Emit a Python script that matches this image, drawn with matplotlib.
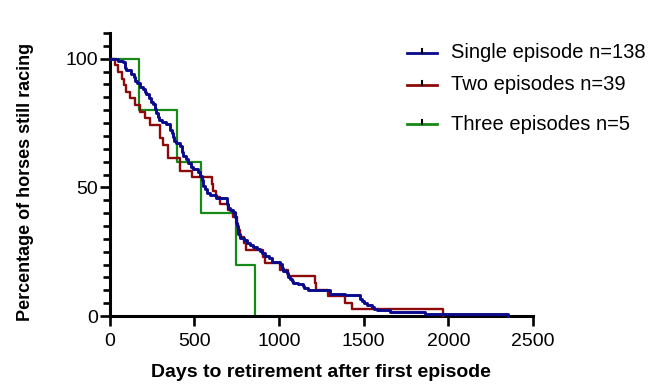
import numpy as np
import matplotlib
matplotlib.use("Agg")
from matplotlib import pyplot as plt
from matplotlib.lines import Line2D

# 生存曲線のデータ (日数, その時点以降の割合%)
single_days = [0, 47, 77, 90, 97, 126, 140, 146, 160, 175, 195, 205, 215, 234, 245, 254,
               265, 274, 285, 293, 310, 333, 353, 365, 372, 380, 392, 414, 425, 433, 450,
               463, 480, 492, 522, 532, 542, 552, 561, 575, 591, 630, 690, 699, 709, 729,
               739, 745, 749, 755, 758, 770, 790, 808, 830, 847, 870, 887, 900, 916, 940,
               956, 1005, 1015, 1024, 1044, 1055, 1064, 1075, 1083, 1113, 1142, 1150, 1172,
               1300, 1389, 1478, 1487, 1500, 1517, 1547, 1560, 1576, 1655, 1862, 2354]
single_surv = [100, 99.3, 98.6, 96.4, 95.7, 94.2, 92.8, 91.3, 90.6, 89.1, 88.4, 87.0, 86.2,
               84.8, 83.3, 82.6, 80.4, 79.0, 77.5, 76.1, 75.4, 74.6, 72.5, 71.0, 69.6, 68.1,
               67.4, 65.9, 63.8, 62.3, 60.9, 59.4, 58.0, 57.2, 55.8, 54.3, 52.9, 50.7, 49.3,
               47.8, 47.1, 45.7, 43.5, 42.0, 41.3, 40.6, 38.4, 36.2, 34.8, 33.3, 31.9, 30.4,
               29.7, 28.3, 27.5, 26.8, 26.1, 25.4, 24.6, 23.2, 22.5, 21.0, 20.3, 18.8, 17.4,
               16.7, 15.2, 14.5, 13.8, 13.0, 12.3, 11.6, 10.9, 10.1, 8.7, 8.0, 6.5, 5.8, 5.1,
               4.3, 3.6, 2.9, 2.2, 1.4, 0.7, 0]

# 2回エピソード (n=39) の引退日
two_events = [30, 50, 69, 85, 98, 120, 148, 177, 207, 236, 295, 295, 313, 343, 343, 414, 414,
              483, 605, 611, 625, 650, 700, 730, 750, 758, 770, 790, 805, 906, 915, 1005,
              1050, 1212, 1220, 1290, 1389, 1429, 1970]

# 3回エピソード (n=5) の引退日
three_events = [172, 395, 537, 745, 858]

labels = ["Single episode n=138", "Two episodes n=39", "Three episodes n=5"]
colors = ["#0a0a8c", "#8c0a0a", "#168a16"]

x_ticks = [0, 500, 1000, 1500, 2000, 2500]
y_ticks = [0, 50, 100]


def km_steps(events):
    n = len(events)
    days = [0] + sorted(events)
    surv = [100.0] + [100.0 * (n - i - 1) / n for i in range(n)]
    return days, surv


plt.rcParams["font.family"] = ["Liberation Sans", "DejaVu Sans"]

fig = plt.figure(figsize=(6.62, 3.84), dpi=100)
ax = fig.add_axes([0.166, 0.177, 0.639, 0.737])

d3, s3 = km_steps(three_events)
d2, s2 = km_steps(two_events)
ax.step(d3, s3, where="post", color=colors[2], lw=1.6, clip_on=False, zorder=2)
ax.step(d2, s2, where="post", color=colors[1], lw=1.7, clip_on=False, zorder=3)
ax.step(single_days, single_surv, where="post", color=colors[0], lw=2.1,
        clip_on=False, zorder=4)

ax.set_xlim(0, 2500)
ax.set_ylim(0, 110)
ax.set_xticks(x_ticks)
ax.set_yticks(y_ticks)
ax.set_yticks(np.arange(0, 111, 5), minor=True)
ax.tick_params(axis="both", which="major", length=7.5, width=1.9, labelsize=14,
               direction="out")
ax.tick_params(axis="x", which="major", pad=5)
ax.tick_params(axis="y", which="major", pad=1)
ax.tick_params(axis="y", which="minor", length=5, width=1.9)
for side in ["top", "right"]:
    ax.spines[side].set_visible(False)
for side in ["left", "bottom"]:
    ax.spines[side].set_linewidth(2.2)

ax.set_xlabel("Days to retirement after first episode", fontsize=14,
              fontweight="bold")
ax.set_ylabel("Percentage of horses still racing", fontsize=13,
              fontweight="bold")
ax.xaxis.set_label_coords(0.5, -0.168)
ax.yaxis.set_label_coords(-0.18, 0.473)

# 凡例 (間隔が不均等なので手動で配置)
leg_y = [52.5, 85, 124]
for lab, col, yp in zip(labels, colors, leg_y):
    yf = 1 - yp / 384
    fig.add_artist(Line2D([407 / 662, 437 / 662], [yf, yf], color=col, lw=2,
                          transform=fig.transFigure))
    fig.add_artist(Line2D([422 / 662, 422 / 662], [yf, yf + 4 / 384], color="black",
                          lw=1.5, transform=fig.transFigure))
    fig.text(451 / 662, yf, lab, fontsize=14.5, va="center", ha="left")

fig.savefig("out.png", dpi=100)
